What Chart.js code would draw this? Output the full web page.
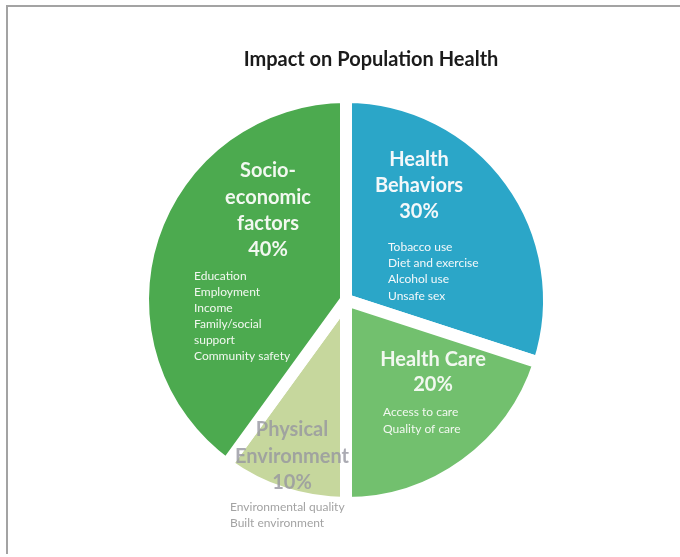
<!DOCTYPE html>
<html>
<head>
<meta charset="utf-8">
<script src="https://cdn.jsdelivr.net/npm/chart.js@4.4.0/dist/chart.umd.min.js"></script>
<style>
  html, body { margin: 0; padding: 0; background: #fff; }
  #wrap { position: relative; width: 680px; height: 557px; }
  #frame { position: absolute; left: 6px; top: 5px; right: 0; bottom: 3px;
           border-top: 2px solid #a3a3a3; border-left: 2px solid #a3a3a3; }
  canvas { position: absolute; left: 0; top: 0; }
</style>
</head>
<body>
<div id="wrap">
  <div id="frame"></div>
  <canvas id="pie" width="680" height="557"></canvas>
</div>
<script>
// chart data
const chartTitle = "Impact on Population Health";
const categories = ["Health Behaviors", "Health Care", "Physical Environment", "Socio-economic factors"];
const shares = [30, 20, 10, 40];
const headings = [
  ["Health", "Behaviors"],
  ["Health Care"],
  ["Physical", "Environment"],
  ["Socio-", "economic", "factors"]
];
const details = [
  ["Tobacco use", "Diet and exercise", "Alcohol use", "Unsafe sex"],
  ["Access to care", "Quality of care"],
  ["Environmental quality", "Built environment"],
  ["Education", "Employment", "Income", "Family/social", "support", "Community safety"]
];
const sliceColors = ["#2ba6c8", "#72c06e", "#c6d79d", "#4caa4f"];

// where the text blocks sit, relative to the pie centre (px)
const labelLayout = [
  { hx: 73, hy: -140, lx: 42, ly: -53, head: "#f4f8fa", list: "#f4f8fa", lineH: 26, listH: 16.3 },
  { hx: 87, hy: 60, lx: 37, ly: 112, head: "#f2f8f0", list: "#f2f8f0", lineH: 25, listH: 17 },
  { hx: -54, hy: 130, lx: -116, ly: 207, head: "rgba(150,150,160,0.8)", list: "#a3a3a3", lineH: 26.5, listH: 16 },
  { hx: -78, hy: -129, lx: -152, ly: -24, head: "#f2f8f0", list: "#f2f8f0", lineH: 26.3, listH: 16 }
];

const textPlugin = {
  id: "sliceText",
  afterDraw(chart) {
    const ctx = chart.ctx;
    const arc = chart.getDatasetMeta(0).data[0];
    const cx = arc.x, cy = arc.y;
    ctx.save();
    ctx.textBaseline = "middle";

    // title
    ctx.fillStyle = "#1b1b1b";
    ctx.textAlign = "center";
    ctx.font = "bold 20px Lato";
    ctx.fillText(chartTitle, 371, 60);

    categories.forEach((c, i) => {
      const lay = labelLayout[i];
      const lines = headings[i].concat([shares[i] + "%"]);
      ctx.textAlign = "center";
      ctx.font = "bold 20px Lato";
      ctx.fillStyle = lay.head;
      lines.forEach((t, j) => ctx.fillText(t, cx + lay.hx, cy + lay.hy + j * lay.lineH));
      ctx.textAlign = "left";
      ctx.font = "12px Lato";
      ctx.fillStyle = lay.list;
      details[i].forEach((t, j) => ctx.fillText(t, cx + lay.lx, cy + lay.ly + j * lay.listH));
    });
    ctx.restore();
  }
};

new Chart(document.getElementById("pie"), {
  type: "pie",
  data: {
    labels: categories,
    datasets: [{
      data: shares,
      backgroundColor: sliceColors,
      borderColor: "#ffffff",
      borderWidth: 12
    }]
  },
  options: {
    responsive: false,
    animation: false,
    layout: { padding: { left: 137, right: 125, top: 91, bottom: 48 } },
    plugins: {
      legend: { display: false },
      tooltip: { enabled: false },
      title: { display: false }
    }
  },
  plugins: [textPlugin]
});
</script>
</body>
</html>
